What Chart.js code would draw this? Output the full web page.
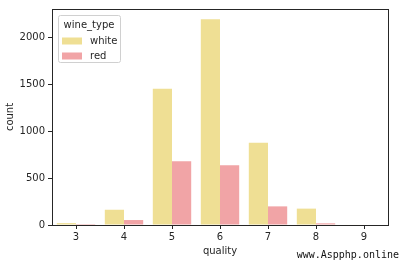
<!DOCTYPE html>
<html>
<head>
<meta charset="utf-8">
<script src="https://cdn.jsdelivr.net/npm/chart.js@4"></script>
<style>
  html, body { margin: 0; padding: 0; background: #fff; }
  #wrap { width: 399px; height: 263px; position: relative; }
</style>
</head>
<body>
<div id="wrap"><canvas id="myChart" width="399" height="263"></canvas></div>
<script>
const qualityLabels = ['3', '4', '5', '6', '7', '8', '9']
const whiteCounts = [20, 163, 1457, 2198, 880, 175, 5]
const redCounts = [10, 53, 681, 638, 199, 18, 0]
const yTicks = [0, 500, 1000, 1500, 2000]

const whiteColor = 'rgb(239, 223, 148)'
const redColor = 'rgb(241, 164, 166)'
const axisColor = '#262626'
const font = 'DejaVu Sans'

const ctx = document.getElementById('myChart')

const framePlugin = {
  id: 'frame',
  afterDraw(chart) {
    const c = chart.ctx
    const a = chart.chartArea
    c.save()
    c.strokeStyle = axisColor
    c.lineWidth = 1
    c.strokeRect(Math.round(a.left) + 0.5, Math.round(a.top) + 0.5,
      Math.round(a.right - a.left), Math.round(a.bottom - a.top))

    // legend box
    const lx = a.left + 6, ly = a.top + 6
    c.fillStyle = 'rgba(255,255,255,0.8)'
    c.strokeStyle = '#d0d0d0'
    c.beginPath()
    c.roundRect(lx + 0.5, ly + 0.5, 62, 47, 2)
    c.fill()
    c.stroke()
    c.fillStyle = axisColor
    c.font = `10px "${font}"`
    c.textBaseline = 'middle'
    c.textAlign = 'center'
    c.fillText('wine_type', lx + 31, ly + 10)
    c.textAlign = 'left'
    const items = [['white', whiteColor], ['red', redColor]]
    items.forEach((it, i) => {
      const yy = ly + 26 + i * 15
      c.fillStyle = it[1]
      c.fillRect(lx + 4, yy - 3.5, 20, 7)
      c.fillStyle = axisColor
      c.fillText(it[0], lx + 32, yy)
    })

    // watermark
    c.font = '10px "DejaVu Sans Mono"'
    c.fillStyle = '#111'
    c.textAlign = 'right'
    c.fillText('www.Aspphp.online', 399, 255)
    c.restore()
  }
}

new Chart(ctx, {
  type: 'bar',
  data: {
    labels: qualityLabels,
    datasets: [
      { label: 'white', data: whiteCounts, backgroundColor: whiteColor },
      { label: 'red', data: redCounts, backgroundColor: redColor }
    ]
  },
  options: {
    responsive: false,
    animation: false,
    layout: { padding: { top: 7, right: 11, left: 4, bottom: 0 } },
    plugins: { legend: { display: false }, tooltip: { enabled: false } },
    datasets: { bar: { categoryPercentage: 0.8, barPercentage: 1.0 } },
    scales: {
      x: {
        offset: true,
        grid: { display: true, drawOnChartArea: false, offset: false, color: axisColor, tickLength: 4 },
        border: { display: false },
        ticks: { color: axisColor, font: { family: font, size: 10 }, padding: 2 },
        title: { display: true, text: 'quality', color: axisColor, font: { family: font, size: 10 }, padding: { top: 2, bottom: 6 } },
        afterFit(scale) { scale.height = 38 }
      },
      y: {
        min: 0,
        max: 2308,
        afterBuildTicks(scale) { scale.ticks = yTicks.map(v => ({ value: v })) },
        grid: { display: true, drawOnChartArea: false, color: axisColor, tickLength: 4 },
        border: { display: false },
        ticks: { color: axisColor, font: { family: font, size: 10 }, padding: 3, callback: v => String(v) },
        title: { display: true, text: 'count', color: axisColor, font: { family: font, size: 10 }, padding: { top: 0, bottom: 2 } },
        afterFit(scale) { scale.width = 48 }
      }
    }
  },
  plugins: [framePlugin]
})
</script>
</body>
</html>
